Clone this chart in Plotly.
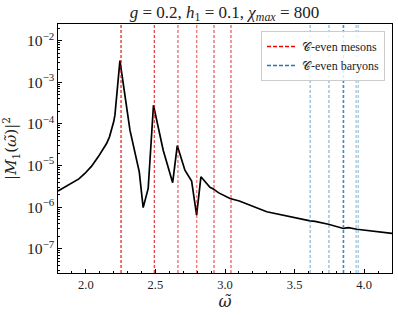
import plotly.graph_objects as go

# curve data (omega, log10 |M1|^2)
omega = [1.80, 1.85, 1.897, 1.95, 1.993, 2.04, 2.089, 2.12, 2.149, 2.17, 2.185, 2.20, 2.209, 2.216, 2.245,
         2.317, 2.384, 2.412, 2.448, 2.486, 2.556, 2.624, 2.657, 2.712, 2.760,
         2.796, 2.827, 2.892, 2.916, 2.952, 3.036, 3.103, 3.30, 3.612, 3.647,
         3.743, 3.851, 3.887, 3.947, 4.20]
logamp = [-5.61, -5.52, -5.43, -5.32, -5.19, -5.02, -4.79, -4.64, -4.47, -4.31, -4.15, -3.95, -3.79, -3.50, -2.48,
          -4.15, -5.15, -6.01, -5.55, -3.55, -4.63, -5.41, -4.52, -5.11, -5.37,
          -6.19, -5.27, -5.52, -5.56, -5.65, -5.79, -5.85, -6.11, -6.33, -6.34,
          -6.41, -6.51, -6.49, -6.53, -6.63]
amp = [10 ** v for v in logamp]

mesons = [2.253, 2.492, 2.662, 2.797, 2.921, 3.043]
meson_alpha = [1.0, 0.85, 0.7, 0.65, 0.75, 0.75]
baryons = [3.612, 3.747, 3.849, 3.853, 3.942, 3.957]
baryon_alpha = [0.6, 0.6, 0.8, 0.8, 0.5, 0.5]

serif = "Liberation Serif"
serif2 = "DejaVu Serif"
fig = go.Figure()

for xm, a in zip(mesons, meson_alpha):
    fig.add_vline(x=xm, line=dict(color=f"rgba(225,0,0,{a})", width=1.1, dash="3px,2px"))
for xb, a in zip(baryons, baryon_alpha):
    fig.add_vline(x=xb, line=dict(color=f"rgba(31,119,180,{a})", width=1.1, dash="3px,2px"))

fig.add_trace(go.Scatter(x=omega, y=amp, mode="lines",
                         line=dict(color="black", width=1.7), showlegend=False))
fig.add_trace(go.Scatter(x=[None], y=[None], mode="lines", name="𝒞-even mesons",
                         line=dict(color="red", width=1.5, dash="4px,2px")))
fig.add_trace(go.Scatter(x=[None], y=[None], mode="lines", name="𝒞-even baryons",
                         line=dict(color="#1f77b4", width=1.5, dash="4px,2px")))

fig.update_layout(
    width=398, height=315,
    margin=dict(l=58, r=6, t=24, b=42, autoexpand=False),
    paper_bgcolor="white", plot_bgcolor="white",
    font=dict(family=serif, color="#222", size=12.5),
    title=dict(text="<i>g</i> = 0.2, <i>h</i><sub>1</sub> = 0.1, <i>χ<sub>max</sub></i> = 800",
               x=0.564, xanchor="center", y=0.963, yanchor="middle", automargin=False,
               font=dict(size=17, family=serif, color="#222")),
    legend=dict(x=0.979, y=0.972, xanchor="right", yanchor="top",
                bgcolor="rgba(255,255,255,0.85)", bordercolor="#ccc", borderwidth=1,
                font=dict(size=12, family=serif), tracegroupgap=0, itemwidth=30),
    xaxis=dict(range=[1.8, 4.2], showgrid=False, zeroline=False, automargin=False,
               showline=True, linecolor="black", linewidth=1.2, mirror=True,
               ticks="inside", ticklen=4, tickcolor="black", dtick=0.5, tick0=0,
               tickformat=".1f",
               minor=dict(ticks="inside", ticklen=2, dtick=0.1, tickcolor="black"),
               title=dict(text="<i>ω̃</i>", font=dict(size=16, family=serif2), standoff=2)),
    yaxis=dict(type="log", range=[-7.58, -1.6], showgrid=False, zeroline=False, automargin=False,
               showline=True, linecolor="black", linewidth=1.2, mirror=True,
               ticks="inside", ticklen=4, tickcolor="black", dtick=1,
               exponentformat="power",
               minor=dict(ticks="inside", ticklen=2, tickcolor="black", showgrid=False),
               title=dict(text="|<i>M</i><sub>1</sub>(<i>ω̃</i>)|<sup>2</sup>",
                          font=dict(size=15, family=serif2), standoff=6)),
)

fig.write_html("out.html", config={"displayModeBar": False, "staticPlot": True},
               post_script="document.body.style.margin='0';")
